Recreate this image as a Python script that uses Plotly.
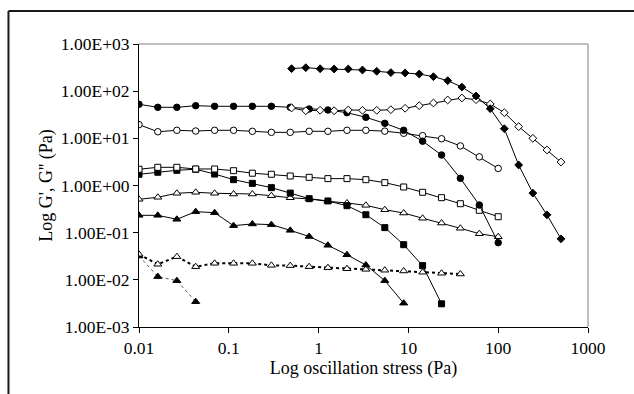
import plotly.graph_objects as go

# ---- data ----
stress_a = [0.01, 0.0162, 0.0264, 0.0428, 0.0695, 0.113, 0.183, 0.298, 0.483, 0.785,
            1.27, 2.07, 3.36, 5.46, 8.86, 14.4, 23.4, 37.9, 61.6, 100]
stress_b = [0.5, 0.72, 1.04, 1.49, 2.14, 3.08, 4.44, 6.38, 9.19, 13.2,
            19.0, 27.4, 39.4, 56.7, 81.5, 117, 169, 243, 349, 500]

stress_fsq = stress_a[:17]
stress_ftri = stress_a[:15]
stress_otri_d = stress_a[:18]
stress_ftri_d = [0.01, 0.0162, 0.0264, 0.0428]

g_fdia = [300, 315, 299, 295, 295, 281, 264, 248, 243, 231, 203, 167, 122, 79, 42.5, 16, 2.72, 0.69, 0.239, 0.074]
g_odia = [44, 38.5, 39.3, 38.5, 39.9, 39.3, 39.3, 40.5, 43.4, 49.2, 56.1, 65, 71.6, 66, 53.5, 35, 17.7, 10.0, 5.66, 3.15]
g_fcir = [52.7, 45.5, 45.5, 49.2, 47.8, 47.8, 47.8, 47.8, 45.5, 41.9, 39.9, 35, 27.9, 20.8, 14.8, 8.7, 4.43, 1.42, 0.386, 0.0614]
g_ocir = [19.5, 13.8, 14.8, 14.3, 14.8, 14.8, 14.1, 13.4, 13.4, 14.1, 14.1, 14.8, 14.8, 14.2, 12.8, 11.4, 9.8, 6.9, 4.05, 2.3]
g_osq = [2.21, 2.43, 2.43, 2.24, 2.24, 2.06, 1.82, 1.73, 1.59, 1.49, 1.40, 1.40, 1.33, 1.15, 0.93, 0.718, 0.552, 0.411, 0.298, 0.218]
g_fsq = [1.73, 1.91, 2.10, 2.21, 1.75, 1.33, 1.11, 0.90, 0.69, 0.525, 0.47, 0.373, 0.24, 0.128, 0.0556, 0.02, 0.0031]
g_otri = [0.51, 0.563, 0.684, 0.718, 0.684, 0.66, 0.66, 0.608, 0.55, 0.52, 0.462, 0.426, 0.38, 0.307, 0.261, 0.202, 0.16, 0.124, 0.095, 0.082]
g_ftri = [0.233, 0.233, 0.192, 0.279, 0.265, 0.141, 0.153, 0.148, 0.112, 0.083, 0.054, 0.034, 0.0206, 0.0096, 0.0032]
g_otri_d = [0.0348, 0.0214, 0.031, 0.019, 0.0224, 0.0224, 0.0224, 0.0203, 0.020, 0.019, 0.0181, 0.0172, 0.0167, 0.016, 0.0154, 0.0145, 0.0138, 0.0133]
g_ftri_d = [0.032, 0.0117, 0.0096, 0.00344]

x_tickvals = [0.01, 0.1, 1, 10, 100, 1000]
x_ticktext = ["0.01", "0.1", "1", "10", "100", "1000"]
y_tickvals = [1e-3, 1e-2, 1e-1, 1, 10, 100, 1000]
y_ticktext = ["1.00E-03", "1.00E-02", "1.00E-01", "1.00E+00", "1.00E+01", "1.00E+02", "1.00E+03"]

FONT = "Liberation Serif, Times New Roman, serif"

fig = go.Figure()


def add(x, y, symbol, filled, size, line=None):
    fig.add_trace(go.Scatter(
        x=x, y=y, mode="lines+markers",
        line=line or dict(color="black", width=1),
        marker=dict(symbol=symbol, size=size,
                    color="black" if filled else "white",
                    line=dict(color="black", width=1)),
        showlegend=False, hoverinfo="skip"))


add(stress_ftri_d, g_ftri_d, "triangle-up", True, 7, dict(color="#555555", width=1, dash="dot"))
add(stress_otri_d, g_otri_d, "triangle-up", False, 7, dict(color="black", width=2, dash="3px,3px"))
add(stress_ftri, g_ftri, "triangle-up", True, 7)
add(stress_a, g_otri, "triangle-up", False, 7)
add(stress_fsq, g_fsq, "square", True, 6)
add(stress_a, g_osq, "square", False, 6)
add(stress_a, g_ocir, "circle", False, 6.5)
add(stress_a, g_fcir, "circle", True, 6.5)
add(stress_b, g_odia, "diamond", False, 6)
add(stress_b, g_fdia, "diamond", True, 6)

axis_common = dict(
    type="log", showgrid=False, zeroline=False,
    showline=True, linecolor="black", linewidth=1,
    ticks="outside", ticklen=5, tickcolor="black", tickwidth=1,
    tickfont=dict(family=FONT, size=17.5, color="black"),
)

fig.update_layout(
    width=634, height=394,
    margin=dict(l=139, r=46, t=44, b=67),
    paper_bgcolor="white", plot_bgcolor="white",
    font=dict(family=FONT, color="black"),
    xaxis=dict(axis_common, range=[-2, 3], tickvals=x_tickvals, ticktext=x_ticktext,
               title=dict(text="Log oscillation stress (Pa)", font=dict(family=FONT, size=18, color="black"),
                          standoff=4)),
    yaxis=dict(axis_common, range=[-3, 3], tickvals=y_tickvals, ticktext=y_ticktext,
               title=dict(text="Log G', G'' (Pa)", font=dict(family=FONT, size=18, color="black"),
                          standoff=3)),
    shapes=[
        # gray plot-area frame (top and right)
        dict(type="line", xref="paper", yref="paper", x0=0, x1=1, y0=1, y1=1,
             line=dict(color="#808080", width=1)),
        dict(type="line", xref="paper", yref="paper", x0=1, x1=1, y0=0, y1=1,
             line=dict(color="#808080", width=1)),
        # outer chart border (left and top, cropped at right/bottom)
        dict(type="line", xref="paper", yref="paper", x0=-0.2907, x1=-0.2907, y0=-0.25, y1=1.1166,
             line=dict(color="#1a1a1a", width=2)),
        dict(type="line", xref="paper", yref="paper", x0=-0.2907, x1=1.12, y0=1.1166, y1=1.1166,
             line=dict(color="#1a1a1a", width=2)),
    ],
)

fig.write_html("out.html")
